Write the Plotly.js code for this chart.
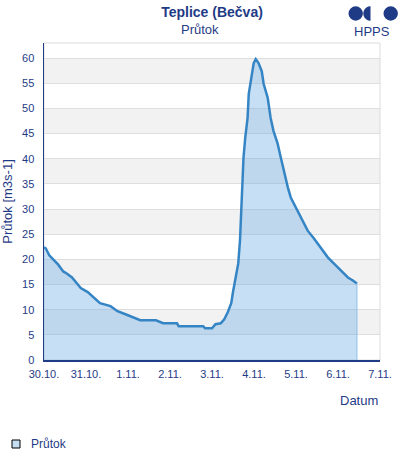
<!DOCTYPE html>
<html>
<head>
<meta charset="utf-8">
<script src="https://cdn.plot.ly/plotly-3.0.1.min.js"></script>
<style>
html,body{margin:0;padding:0;background:#fff;}
#chart{width:400px;height:460px;}
</style>
</head>
<body>
<div id="chart"></div>
<script>
// Time stamps (30.10. – 6.11.)
const times = [
  "2023-10-30 00:00","2023-10-30 01:00","2023-10-30 03:00","2023-10-30 06:00","2023-10-30 08:00",
  "2023-10-30 11:00","2023-10-30 13:00","2023-10-30 16:00","2023-10-30 19:00","2023-10-30 21:00",
  "2023-10-31 01:00","2023-10-31 04:00","2023-10-31 08:00","2023-10-31 14:00","2023-10-31 18:00",
  "2023-11-01 00:00","2023-11-01 03:00","2023-11-01 07:00","2023-11-01 16:00","2023-11-01 20:00",
  "2023-11-02 04:00","2023-11-02 05:00","2023-11-02 19:00","2023-11-02 20:00",
  "2023-11-03 00:00","2023-11-03 02:00","2023-11-03 05:00","2023-11-03 07:00","2023-11-03 09:00",
  "2023-11-03 11:00","2023-11-03 12:00","2023-11-03 15:00","2023-11-03 16:00","2023-11-03 16:30",
  "2023-11-03 17:30","2023-11-03 18:00","2023-11-03 19:00","2023-11-03 20:20","2023-11-03 21:00",
  "2023-11-03 22:35","2023-11-03 23:50",
  "2023-11-04 01:00","2023-11-04 02:35","2023-11-04 04:25","2023-11-04 05:30","2023-11-04 07:50",
  "2023-11-04 09:30","2023-11-04 11:10","2023-11-04 13:30","2023-11-04 15:20","2023-11-04 17:00",
  "2023-11-04 19:20","2023-11-04 21:00","2023-11-04 23:50",
  "2023-11-05 02:40","2023-11-05 06:40","2023-11-05 10:10","2023-11-05 14:10","2023-11-05 18:10",
  "2023-11-05 21:35",
  "2023-11-06 01:35","2023-11-06 05:40","2023-11-06 08:30","2023-11-06 10:50"
];
// Discharge values [m3/s]
const prutok = [
  22.4,22.2,20.8,19.8,19.0,
  17.6,17.2,16.4,15.2,14.3,
  13.5,12.5,11.3,10.7,9.7,
  8.9,8.5,7.9,7.9,7.3,
  7.3,6.7,6.7,6.3,
  6.3,7.1,7.3,8.1,9.5,
  11.3,13.5,19.2,23.8,28.3,
  33.7,40.2,44.2,48.1,52.9,
  56.8,59.0,
  59.8,59.0,57.4,54.9,52.1,
  48.1,45.5,43.0,40.2,37.6,
  34.3,32.3,30.3,
  28.3,25.7,24.2,22.4,20.4,
  19.2,
  17.8,16.4,15.8,15.2
];
const xTickVals = ["2023-10-30","2023-10-31","2023-11-01","2023-11-02","2023-11-03","2023-11-04","2023-11-05","2023-11-06","2023-11-07"];
const xTickText = ["30.10.","31.10.","1.11.","2.11.","3.11.","4.11.","5.11.","6.11.","7.11."];
const yTicks = [0,5,10,15,20,25,30,35,40,45,50,55,60];

const NAVY = "#1f3b86";
const FONT = "Liberation Sans, Arial, sans-serif";

const W = 400, H = 460;
const mL = 44, mR = 20, mT = 43, mB = 100;
const pw = W - mL - mR, ph = H - mT - mB;
const px = v => (v - mL) / pw;
const py = v => (H - mB - v) / ph;

const shapes = [];
// alternating bands
for (let b = 5; b < 60; b += 10) {
  shapes.push({type:"rect", xref:"paper", yref:"y", x0:0, x1:1, y0:b, y1:b+5,
    fillcolor:"#f2f2f2", line:{width:0}, layer:"below"});
}
// plot border (top/right grey)
shapes.push({type:"rect", xref:"paper", yref:"paper", x0:0, x1:1, y0:0, y1:1,
  line:{color:"#dcdcdc", width:1}, fillcolor:"rgba(0,0,0,0)", layer:"below"});
// logo
const r = 7.2, cy = 13.5;
shapes.push({type:"circle", xref:"paper", yref:"paper", x0:px(348.5), x1:px(348.5+2*r), y0:py(cy+r), y1:py(cy-r), fillcolor:NAVY, line:{width:0}});
shapes.push({type:"circle", xref:"paper", yref:"paper", x0:px(383.5), x1:px(383.5+2*r), y0:py(cy+r), y1:py(cy-r), fillcolor:NAVY, line:{width:0}});
// half disc (left half, flat on right)
(function(){
  const cx = 370.5; let d = "M " + px(cx) + " " + py(cy - r);
  for (let i = 0; i <= 24; i++) {
    const a = -Math.PI/2 - Math.PI * i / 24;
    d += " L " + px(cx + r*Math.cos(a)) + " " + py(cy - r*Math.sin(a));
  }
  d += " Z";
  shapes.push({type:"path", xref:"paper", yref:"paper", path:d, fillcolor:NAVY, line:{width:0}});
})();
// legend symbol
shapes.push({type:"rect", xref:"paper", yref:"paper", x0:px(12), x1:px(20), y0:py(448), y1:py(440),
  fillcolor:"#c6ddf1", line:{color:"#000", width:1}});

const annotations = [
  {text:"HPPS", xref:"paper", yref:"paper", x:px(372), y:py(31.5), xanchor:"center", yanchor:"middle",
   showarrow:false, font:{family:FONT, size:13, color:NAVY}},
  {text:"Datum", xref:"paper", yref:"paper", x:px(380), y:py(400), xanchor:"right", yanchor:"middle",
   showarrow:false, font:{family:FONT, size:13, color:NAVY}},
  {text:"Průtok", xref:"paper", yref:"paper", x:px(29), y:py(444), xanchor:"left", yanchor:"middle",
   showarrow:false, font:{family:FONT, size:12, color:NAVY}},
  {text:"Průtok", xref:"paper", yref:"paper", x:px(200), y:py(29), xanchor:"center", yanchor:"middle",
   showarrow:false, font:{family:FONT, size:13, color:NAVY}}
];

const traces = [
  {x: times, y: prutok, type:"scatter", mode:"lines", fill:"tozeroy",
   fillcolor:"rgba(100,165,225,0.36)", line:{color:"#3585c5", width:2.5}, showlegend:false, hoverinfo:"skip"},
  {x:[times[times.length-1], times[times.length-1]], y:[0, prutok[prutok.length-1]], type:"scatter", mode:"lines",
   line:{color:"#8fbfe8", width:1}, showlegend:false, hoverinfo:"skip"}
];

const layout = {
  width: W, height: H,
  margin: {l:mL, r:mR, t:mT, b:mB, pad:0},
  paper_bgcolor:"#fff", plot_bgcolor:"rgba(0,0,0,0)",
  title: {text:"<b>Teplice (Bečva)</b>", x:0.5, xref:"paper", xanchor:"center", y:1 - 12/H, yanchor:"middle",
    font:{family:FONT, size:14, color:NAVY}},
  xaxis: {type:"date", range:["2023-10-30 00:00","2023-11-07 00:00"], tickvals:xTickVals, ticktext:xTickText,
    showgrid:false, zeroline:false, showline:true, linecolor:NAVY, linewidth:1.5, ticks:"", ticklabelstandoff:3,
    tickfont:{family:FONT, size:11, color:NAVY}, fixedrange:true},
  yaxis: {range:[0,63], tickvals:yTicks, showgrid:true, gridcolor:"#dedede", gridwidth:1, zeroline:false,
    showline:true, linecolor:NAVY, linewidth:1.5, ticks:"", ticklabelstandoff:6,
    tickfont:{family:FONT, size:11, color:NAVY},
    title:{text:"Průtok [m3s-1]", standoff:6, font:{family:FONT, size:13, color:NAVY}}, fixedrange:true},
  shapes: shapes,
  annotations: annotations,
  showlegend:false
};

Plotly.newPlot("chart", traces, layout, {displayModeBar:false, staticPlot:true});
</script>
</body>
</html>
